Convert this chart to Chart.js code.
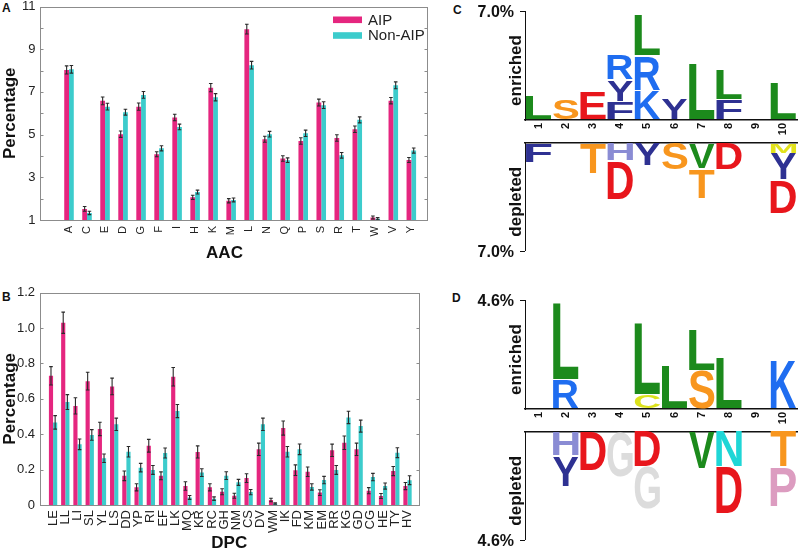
<!DOCTYPE html>
<html><head><meta charset="utf-8">
<script src="https://cdn.jsdelivr.net/npm/chart.js@4.4.1/dist/chart.umd.min.js"></script>
<style>
html,body{margin:0;padding:0;background:#fff;overflow:hidden;width:800px;height:550px;}
canvas{position:absolute;}
.pl{position:absolute;font:bold 12px "Liberation Sans",Arial,sans-serif;color:#111;line-height:1;}
</style></head><body>
<div class="pl" style="left:2px;top:2px">A</div>
<div class="pl" style="left:2px;top:291px">B</div>
<div class="pl" style="left:453px;top:4px">C</div>
<div class="pl" style="left:452px;top:292px">D</div>
<canvas id="cA" width="440" height="270" style="left:0;top:0"></canvas>
<canvas id="cB" width="440" height="280" style="left:0;top:275px"></canvas>
<canvas id="cCe" width="360" height="140" style="left:440px;top:0"></canvas>
<canvas id="cCd" width="360" height="130" style="left:440px;top:130px"></canvas>
<canvas id="cDe" width="360" height="140" style="left:440px;top:289px"></canvas>
<canvas id="cDd" width="360" height="130" style="left:440px;top:419px"></canvas>
<script>
// ---------- DATA ----------
const seriesNames = ['AIP', 'Non-AIP'];

const aacLabels = ['A','C','E','D','G','F','I','H','K','M','L','N','Q','P','S','R','T','W','V','Y'];
const aacAIP    = [8.03,1.52,6.58,5.02,6.31,4.08,5.80,2.06,7.20,1.90,9.94,4.78,3.88,4.70,6.50,4.84,5.25,1.12,6.59,3.81];
const aacNonAIP = [8.06,1.33,6.31,6.05,6.86,4.36,5.36,2.31,6.75,1.94,8.25,5.02,3.80,5.06,6.38,4.03,5.69,1.06,7.31,4.25];
const aacAIPErr    = [0.19,0.11,0.18,0.15,0.17,0.12,0.15,0.10,0.19,0.10,0.23,0.14,0.13,0.15,0.16,0.15,0.15,0.07,0.15,0.12];
const aacNonAIPErr = [0.18,0.08,0.16,0.14,0.16,0.12,0.13,0.09,0.17,0.09,0.18,0.13,0.11,0.15,0.16,0.13,0.14,0.05,0.16,0.12];
const aacYTicks = [1,2,3,4,5,6,7,8,9,10,11];

const dpcLabels = ['LE','LL','LI','SL','YL','LS','DD','YP','RI','EF','LK','MQ','KR','RC','GH','NM','CS','DV','WM','IK','FD','KM','EM','RR','KG','GD','CG','HE','TY','HV'];
const dpcAIP    = [0.73,1.03,0.56,0.70,0.43,0.67,0.165,0.10,0.335,0.165,0.725,0.107,0.30,0.10,0.075,0.052,0.152,0.315,0.028,0.435,0.197,0.188,0.07,0.309,0.352,0.315,0.081,0.051,0.192,0.107];
const dpcNonAIP = [0.467,0.582,0.343,0.396,0.264,0.456,0.301,0.211,0.198,0.294,0.531,0.043,0.183,0.036,0.166,0.128,0.073,0.456,0.008,0.301,0.315,0.102,0.141,0.198,0.495,0.446,0.158,0.107,0.296,0.14];
const dpcAIPErr    = [0.052,0.06,0.046,0.05,0.038,0.047,0.027,0.02,0.036,0.022,0.052,0.024,0.034,0.02,0.017,0.014,0.025,0.035,0.01,0.04,0.03,0.027,0.016,0.035,0.038,0.035,0.017,0.014,0.026,0.02];
const dpcNonAIPErr = [0.038,0.042,0.03,0.03,0.024,0.035,0.03,0.024,0.025,0.028,0.037,0.011,0.022,0.01,0.022,0.017,0.015,0.035,0.004,0.03,0.03,0.018,0.021,0.025,0.035,0.034,0.021,0.017,0.028,0.025];
const dpcYTicks = [0,0.2,0.4,0.6,0.8,1.0,1.2];

const logoPositions = ['1','2','3','4','5','6','7','8','9','10'];
// panel C (max 7.0%)
const cMax = 7.0;
const cEnrLetters = ['L','S','E','FYR','KRL','Y','L','FL','','L'];
const cEnrHeights = [[1.56],[1.33],[1.78],[1.18,1.39,1.60],[1.86,2.25,2.60],[1.39],[3.58],[1.28,1.93],[],[2.40]];
const cDepLetters = ['F','','T','HD','Y','S','VT','D','','MYD'];
const cDepHeights = [[1.27],[],[2.03],[1.17,2.50],[1.49],[1.77],[1.66,1.94],[1.73],[],[0.69,1.73,2.16]];
// panel D (max 4.6%)
const dMax = 4.6;
const dEnrLetters = ['','RL','','','CL','L','SL','L','','K'];
const dEnrHeights = [[],[1.23,3.25],[],[],[0.62,3.00],[1.82],[1.63,1.74],[2.17],[],[2.05]];
const dDepLetters = ['','HY','D','G','DG','','V','ND','','TP'];
const dDepHeights = [[],[1.03,1.32],[1.67],[1.95],[1.50,1.82],[],[1.57],[1.50,2.00],[],[1.50,1.71]];

// ---------- STYLE ----------
const FONT = '"Liberation Sans", Arial, Helvetica, sans-serif';
const PINK = '#e5267f';
const CYAN = '#3ccccc';
const LETTER_COLORS = {
  L:'#1c8a1c', V:'#1c8a1c', S:'#f8961e', T:'#f8961e', E:'#e8161c', D:'#e8161c',
  F:'#2e3192', Y:'#2e3192', R:'#1f6df0', K:'#1f6df0', H:'#8a8cd4', M:'#e2e21c',
  C:'#dce21c', G:'#dcdcdc', N:'#1fd6d6', P:'#dc9cc0'
};

// ---------- PLUGINS ----------
const framePlugin = {
  id: 'frame',
  afterDraw(chart) {
    const {ctx, chartArea: a} = chart;
    const ys = chart.scales.y;
    ctx.save();
    ctx.strokeStyle = '#8c8c8c'; ctx.lineWidth = 1;
    const L = Math.round(a.left) + 0.5, R = Math.round(a.right) + 0.5;
    const T = Math.round(a.top) + 0.5, B = Math.round(a.bottom) + 0.5;
    ctx.strokeRect(L, T, R - L, B - T);
    ctx.beginPath();
    ys.ticks.forEach(t => {
      const py = Math.round(ys.getPixelForValue(t.value)) + 0.5;
      ctx.moveTo(L, py); ctx.lineTo(L + 3, py);
      ctx.moveTo(R, py); ctx.lineTo(R - 3, py);
    });
    ctx.stroke();
    ctx.restore();
  }
};

const errPlugin = {
  id: 'errbars',
  afterDatasetsDraw(chart) {
    const {ctx} = chart;
    const ys = chart.scales.y;
    ctx.save();
    ctx.strokeStyle = '#2a2a2a'; ctx.lineWidth = 1.1;
    chart.data.datasets.forEach((ds, di) => {
      const meta = chart.getDatasetMeta(di);
      meta.data.forEach((el, j) => {
        const v = ds.data[j].y, e = ds.err[j];
        const x = el.x;
        const y1 = ys.getPixelForValue(v - e), y2 = ys.getPixelForValue(v + e);
        ctx.beginPath();
        ctx.moveTo(x, y1); ctx.lineTo(x, y2);
        ctx.moveTo(x - 1.8, y2); ctx.lineTo(x + 1.8, y2);
        ctx.moveTo(x - 1.8, y1); ctx.lineTo(x + 1.8, y1);
        ctx.stroke();
      });
    });
    ctx.restore();
  }
};

const insideLegend = {
  id: 'insideLegend',
  afterDraw(chart) {
    const {ctx, chartArea: a} = chart;
    ctx.save();
    chart.data.datasets.forEach((ds, i) => {
      const y = a.top + 13.3 + i * 15.7;
      ctx.fillStyle = ds.backgroundColor;
      ctx.fillRect(a.right - 94, y - 3.3, 29, 6.6);
      ctx.fillStyle = '#222';
      ctx.font = '15px ' + FONT;
      ctx.textBaseline = 'middle'; ctx.textAlign = 'left';
      ctx.fillText(ds.label, a.right - 59, y + 0.8);
    });
    ctx.restore();
  }
};

// x-axis title drawn under the chart area, with an optional horizontal shift
const xTitlePlugin = {
  id: 'xTitle',
  afterDraw(chart, args, o) {
    const {ctx, chartArea: a} = chart;
    ctx.save();
    ctx.fillStyle = '#111';
    ctx.font = 'bold 17px ' + FONT;
    ctx.textAlign = 'center'; ctx.textBaseline = 'middle';
    ctx.fillText(o.text, (a.left + a.right) / 2 + o.dx, o.y);
    ctx.restore();
  }
};

function barChart(id, c) {
  const mk = (vals) => vals.map((v, i) => ({x: i, y: v}));
  return new Chart(document.getElementById(id), {
    type: 'bar',
    data: {
      datasets: [
        {label: seriesNames[0], data: mk(c.a), err: c.aErr, backgroundColor: PINK, borderWidth: 0},
        {label: seriesNames[1], data: mk(c.b), err: c.bErr, backgroundColor: CYAN, borderWidth: 0}
      ]
    },
    options: {
      responsive: false, animation: false,
      layout: {padding: c.pad},
      categoryPercentage: c.catPct, barPercentage: 1,
      plugins: {legend: {display: false}, tooltip: {enabled: false},
                xTitle: {text: c.xTitle, dx: c.xTitleDx, y: c.xTitleY}},
      scales: {
        x: {
          type: 'linear', min: c.xmin, max: c.xmax, offset: false,
          afterBuildTicks: s => { s.ticks = c.labels.map((_, i) => ({value: i})); },
          afterFit: s => { s.height = c.xh; s.paddingLeft = 0; s.paddingRight = 0; },
          ticks: {autoSkip: false, minRotation: 90, maxRotation: 90, padding: c.xPad, color: '#222',
                  font: {family: FONT, size: c.xFont},
                  callback: v => (c.labels[v] !== undefined ? c.labels[v] : '')},
          grid: {display: false, drawTicks: false}, border: {display: false},
          title: {display: false}
        },
        y: {
          min: c.ymin, max: c.ymax,
          afterBuildTicks: s => { s.ticks = c.yTicks.map(v => ({value: v})); },
          afterFit: s => { s.width = c.yw; s.paddingTop = 0; s.paddingBottom = 0; },
          ticks: {autoSkip: false, padding: 4.5, color: '#222', font: {family: FONT, size: 13},
                  callback: c.yFmt},
          grid: {display: false, drawTicks: false}, border: {display: false},
          title: {display: true, text: 'Percentage', color: '#111',
                  font: {family: FONT, size: 17, weight: 'bold'}, padding: {top: 0, bottom: 0}}
        }
      }
    },
    plugins: c.legend ? [framePlugin, errPlugin, insideLegend, xTitlePlugin] : [framePlugin, errPlugin, xTitlePlugin]
  });
}

barChart('cA', {
  a: aacAIP, b: aacNonAIP, aErr: aacAIPErr, bErr: aacNonAIPErr, labels: aacLabels,
  xmin: -1.61, xmax: 19.87, ymin: 1, ymax: 11, yTicks: aacYTicks,
  yFmt: v => (v % 2 === 1 ? String(v) : ''),
  pad: {top: 6.5, right: 13, left: 0, bottom: 0}, yw: 40, xh: 50, xPad: 6, xFont: 11,
  catPct: 0.53, xTitle: 'AAC', xTitleDx: -9, xTitleY: 253.5, legend: true
});

barChart('cB', {
  a: dpcAIP, b: dpcNonAIP, aErr: dpcAIPErr, bErr: dpcNonAIPErr, labels: dpcLabels,
  xmin: -1.11, xmax: 29.94, ymin: 0, ymax: 1.2, yTicks: dpcYTicks,
  yFmt: v => (v === 0 ? '0' : v.toFixed(1)),
  pad: {top: 17.7, right: 21, left: 0, bottom: 0}, yw: 39.5, xh: 50, xPad: 5, xFont: 13,
  catPct: 0.68, xTitle: 'DPC', xTitleDx: 0, xTitleY: 268.5, legend: false
});

// ---------- LOGOS ----------
function drawGlyph(ctx, ch, x, y, w, h, color) {
  if (h <= 0 || w <= 0) return;
  ctx.save();
  ctx.font = 'bold 200px ' + FONT;
  ctx.textAlign = 'left'; ctx.textBaseline = 'alphabetic';
  const m = ctx.measureText(ch);
  const iw = m.actualBoundingBoxLeft + m.actualBoundingBoxRight;
  const ih = m.actualBoundingBoxAscent + m.actualBoundingBoxDescent;
  ctx.translate(x, y);
  ctx.scale(w / iw, h / ih);
  ctx.fillStyle = color;
  ctx.fillText(ch, m.actualBoundingBoxLeft, m.actualBoundingBoxAscent);
  ctx.restore();
}

const logoPlugin = {
  id: 'logo',
  afterDatasetsDraw(chart) {
    const ctx = chart.ctx;
    chart.data.datasets.forEach((ds, di) => {
      const meta = chart.getDatasetMeta(di);
      meta.data.forEach((el, j) => {
        const ch = ds.letters[j];
        if (!ch) return;
        const p = el.getProps(['x', 'y', 'base', 'width'], true);
        const top = Math.min(p.y, p.base), h = Math.abs(p.base - p.y);
        drawGlyph(ctx, ch, p.x - p.width / 2, top + 0.6, p.width, h - 1.2, LETTER_COLORS[ch] || '#000');
      });
    });
  },
  afterDraw(chart, args, o) {
    const {ctx, chartArea: a} = chart;
    const ys = chart.scales.y;
    ctx.save();
    const yMax = Math.round(ys.getPixelForValue(ys.max)) + 0.5;
    ctx.strokeStyle = '#111'; ctx.lineWidth = 1;
    ctx.beginPath(); ctx.moveTo(a.left - 5, yMax); ctx.lineTo(a.left, yMax); ctx.stroke();
    ctx.fillStyle = '#111';
    ctx.font = 'bold 16px ' + FONT;
    ctx.textAlign = 'right'; ctx.textBaseline = 'middle';
    ctx.fillText(o.maxLabel, a.left - 11, yMax + 1);
    ctx.translate(a.left - 9, (a.top + a.bottom) / 2 + 5);
    ctx.rotate(-Math.PI / 2);
    ctx.textAlign = 'center';
    ctx.font = 'bold 17px ' + FONT;
    ctx.fillText(o.title, 0, 0);
    ctx.restore();
  }
};

function logoChart(id, letters, heights, max, depleted) {
  const layers = Math.max(...heights.map(h => h.length));
  const datasets = [];
  for (let k = 0; k < layers; k++) {
    datasets.push({
      data: heights.map(h => (h[k] !== undefined ? h[k] : null)),
      letters: letters.map(s => s[k] || ''),
      backgroundColor: 'rgba(0,0,0,0)', borderWidth: 0,
      barPercentage: 0.93, categoryPercentage: 1
    });
  }
  return new Chart(document.getElementById(id), {
    type: 'bar',
    data: {labels: logoPositions, datasets},
    options: {
      responsive: false, animation: false,
      layout: {padding: depleted ? {top: 0, right: 3, left: 0, bottom: 9.3} : {top: 11, right: 3, left: 0, bottom: 0}},
      plugins: {legend: {display: false}, tooltip: {enabled: false},
                logo: {title: depleted ? 'depleted' : 'enriched', maxLabel: max.toFixed(1) + '%'}},
      scales: {
        x: {
          type: 'category', stacked: true, offset: true, position: depleted ? 'top' : 'bottom',
          grid: {display: false, drawTicks: false},
          border: {display: true, color: '#111', width: 1.5},
          ticks: depleted ? {display: false} :
            {autoSkip: false, minRotation: 90, maxRotation: 90, padding: 3, color: '#111',
             font: {family: FONT, size: 11, weight: 'bold'}},
          afterFit: s => { s.height = depleted ? 12.7 : 20; s.paddingLeft = 0; s.paddingRight = 0; }
        },
        y: {
          min: 0, max: max, reverse: depleted, stacked: true,
          afterBuildTicks: s => { s.ticks = [{value: 0}, {value: max}]; },
          afterFit: s => { s.width = 85; s.paddingTop = 0; s.paddingBottom = 0; },
          ticks: {display: false},
          grid: {display: false, drawTicks: false},
          border: {display: true, color: '#111', width: 1}
        }
      }
    },
    plugins: [logoPlugin]
  });
}

logoChart('cCe', cEnrLetters, cEnrHeights, cMax, false);
logoChart('cCd', cDepLetters, cDepHeights, cMax, true);
logoChart('cDe', dEnrLetters, dEnrHeights, dMax, false);
logoChart('cDd', dDepLetters, dDepHeights, dMax, true);
</script>
</body></html>
